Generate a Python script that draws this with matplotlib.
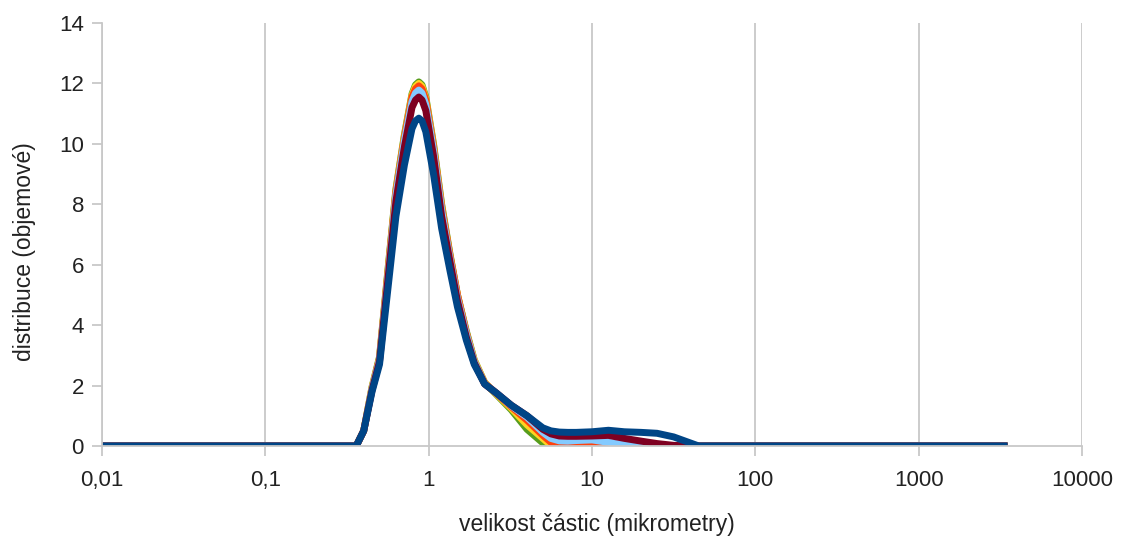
import numpy as np
import matplotlib.pyplot as plt
from matplotlib.ticker import FixedLocator, FixedFormatter, NullLocator

plt.rcParams['font.family'] = ['Liberation Sans', 'DejaVu Sans']

# velikost castic (um)
velikost = [0.01, 0.36, 0.4, 0.45, 0.5, 0.56, 0.63, 0.71, 0.79, 0.83, 0.87,
            0.91, 0.96, 1.07, 1.2, 1.35, 1.5, 1.7, 1.9, 2.2, 2.6, 3.2, 4.0,
            5.0, 5.6, 6.3, 7.1, 8.0, 10, 12.6, 15.8, 20, 25, 31.6, 40, 45, 3500]

# jednotlive mereni (objemova distribuce)
zelena = [0, 0, 0.5, 1.95, 2.95, 5.7, 8.5, 10.3, 11.65, 11.95, 12.05, 11.95,
          11.55, 10.0, 8.0, 6.35, 5.0, 3.8, 2.85, 2.1, 1.7, 1.2, 0.55,
          0.1, 0, 0, 0, 0, 0, 0, 0, 0, 0, 0, 0, 0, 0]
zluta = [0, 0, 0.5, 1.95, 2.9, 5.65, 8.45, 10.25, 11.6, 11.9, 12.0, 11.9,
         11.5, 9.95, 7.95, 6.3, 5.0, 3.75, 2.85, 2.1, 1.72, 1.25, 0.7,
         0.25, 0.02, 0, 0, 0, 0, 0, 0, 0, 0, 0, 0, 0, 0]
oranzova = [0, 0, 0.5, 1.9, 2.9, 5.6, 8.4, 10.2, 11.55, 11.82, 11.92, 11.82,
            11.45, 9.9, 7.9, 6.3, 5.0, 3.75, 2.8, 2.08, 1.74, 1.3, 0.85,
            0.35, 0.12, 0, 0, 0, 0, 0, 0, 0, 0, 0, 0, 0, 0]
svetle_modra = [0, 0, 0.5, 1.9, 2.85, 5.5, 8.3, 10.1, 11.4, 11.68, 11.78,
                11.68, 11.3, 9.8, 7.8, 6.2, 4.9, 3.7, 2.8, 2.06, 1.75, 1.33,
                0.95, 0.45, 0.25, 0.17, 0.16, 0.18, 0.2, 0.12, 0.04, 0, 0,
                0, 0, 0, 0]
vinova = [0, 0, 0.5, 1.85, 2.8, 5.4, 8.1, 9.9, 11.2, 11.45, 11.55, 11.45,
          11.1, 9.6, 7.6, 6.1, 4.8, 3.6, 2.75, 2.05, 1.75, 1.35, 1.0,
          0.55, 0.4, 0.33, 0.32, 0.32, 0.33, 0.35, 0.25, 0.16, 0.08, 0.02,
          0, 0, 0]
modra = [0, 0, 0.5, 1.8, 2.7, 5.1, 7.6, 9.3, 10.5, 10.76, 10.85, 10.76,
         10.4, 9.0, 7.2, 5.8, 4.6, 3.5, 2.7, 2.05, 1.75, 1.35, 1.0,
         0.6, 0.5, 0.46, 0.45, 0.45, 0.47, 0.52, 0.47, 0.45, 0.42, 0.3,
         0.1, 0, 0]

serie = [zelena, zluta, oranzova, svetle_modra, vinova, modra]
barvy = ['#579d1c', '#ffd320', '#ff420e', '#83caff', '#7e0021', '#004586']

xticks = [0.01, 0.1, 1, 10, 100, 1000, 10000]
xlabels = ['0,01', '0,1', '1', '10', '100', '1000', '10000']

fig = plt.figure(figsize=(11.25, 5.46), dpi=100)
ax = fig.add_axes([0.0907, 0.1832, 0.8711, 0.7747])

for y, c in zip(serie, barvy):
    ax.plot(velikost, y, color=c, lw=5, solid_joinstyle='round',
            solid_capstyle='butt')

ax.set_xscale('log')
ax.set_xlim(0.01, 10000)
ax.set_ylim(0, 14)
ax.xaxis.set_major_locator(FixedLocator(xticks))
ax.xaxis.set_major_formatter(FixedFormatter(xlabels))
ax.xaxis.set_minor_locator(NullLocator())
ax.set_yticks(range(0, 15, 2))

ax.grid(True, axis='x', color='#c8c8c8', lw=1.3)
for s in ['top', 'right']:
    ax.spines[s].set_visible(False)
for s in ['left', 'bottom']:
    ax.spines[s].set_color('#c8c8c8')
    ax.spines[s].set_linewidth(1.3)
ax.tick_params(axis='both', colors='#c8c8c8', labelcolor='#222222',
               labelsize=16, length=7, width=1.3)
ax.tick_params(axis='x', pad=10)
ax.tick_params(axis='y', pad=6)

ax.set_xlabel('velikost částic (mikrometry)', fontsize=16.5, color='#222222')
ax.set_ylabel('distribuce (objemové)', fontsize=16.5, color='#222222')
ax.xaxis.set_label_coords(0.505, -0.158)
ax.yaxis.set_label_coords(-0.067, 0.46)

fig.savefig('out.png', dpi=100)
